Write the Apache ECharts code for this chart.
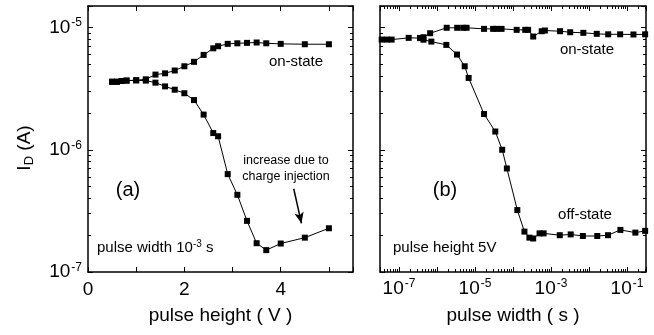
<!DOCTYPE html>
<html>
<head>
<meta charset="utf-8">
<script src="https://cdn.jsdelivr.net/npm/echarts@6/dist/echarts.min.js"></script>
<style>
  html, body { margin: 0; padding: 0; background: #fff; }
  #main { width: 654px; height: 335px; }
</style>
</head>
<body>
<div id="main"></div>
<script>
// panel (a): I_D vs pulse height, pulse width 1e-3 s
const pulseHeight = [0.5, 0.6, 0.7, 0.8, 1.0, 1.2, 1.4, 1.6, 1.8, 2.0, 2.2, 2.4, 2.6, 2.7, 2.9, 3.1, 3.3, 3.5, 3.7, 4.0, 4.5, 5.0]
const onStateA = [3.6e-6, 3.6e-6, 3.65e-6, 3.68e-6, 3.7e-6, 3.77e-6, 4.12e-6, 4.22e-6, 4.45e-6, 4.82e-6, 5.24e-6, 5.97e-6, 6.76e-6, 7.03e-6, 7.35e-6, 7.43e-6, 7.49e-6, 7.54e-6, 7.43e-6, 7.35e-6, 7.3e-6, 7.3e-6]
const offStateA = [3.6e-6, 3.6e-6, 3.65e-6, 3.68e-6, 3.7e-6, 3.68e-6, 3.54e-6, 3.3e-6, 3.1e-6, 2.9e-6, 2.55e-6, 1.94e-6, 1.37e-6, 1.29e-6, 6.32e-7, 4.28e-7, 2.62e-7, 1.72e-7, 1.51e-7, 1.71e-7, 1.91e-7, 2.28e-7]
// arrow "increase due to charge injection" (data coords)
const arrowA = [[4.27, 4.8e-7], [4.43, 2.5e-7]]

// panel (b): I_D vs pulse width, pulse height 5V
const pulseWidthOn = [3.5e-8, 4.8e-8, 6.4e-8, 1.8e-7, 3.6e-7, 4.4e-7, 6.6e-7, 1.8e-6, 3.4e-6, 4.9e-6, 6.0e-6, 1.73e-5, 3.0e-5, 3.7e-5, 5.0e-5, 1.25e-4, 2.1e-4, 2.5e-4, 3.4e-4, 5.7e-4, 6.9e-4, 1.73e-3, 3.2e-3, 7.1e-3, 1.6e-2, 3.2e-2, 6.6e-2, 0.148, 0.3]
const onStateB = [7.97e-6, 7.97e-6, 7.97e-6, 8.23e-6, 8.2e-6, 8.33e-6, 8.98e-6, 9.95e-6, 9.95e-6, 9.95e-6, 9.95e-6, 9.75e-6, 9.75e-6, 9.75e-6, 9.75e-6, 9.57e-6, 9.57e-6, 9.57e-6, 8.44e-6, 9.33e-6, 9.45e-6, 9.33e-6, 9.15e-6, 9.05e-6, 8.88e-6, 8.8e-6, 8.8e-6, 8.77e-6, 8.8e-6]
const pulseWidthOff = [3.6e-7, 4.4e-7, 7.1e-7, 1.76e-6, 3.36e-6, 5.36e-6, 6.8e-6, 1.73e-5, 3.42e-5, 5.2e-5, 6.9e-5, 1.3e-4, 2.0e-4, 2.7e-4, 3.4e-4, 5.0e-4, 6.4e-4, 1.7e-3, 3.3e-3, 6.9e-3, 1.65e-2, 3.16e-2, 6.7e-2, 0.166, 0.3]
const offStateB = [8.2e-6, 7.95e-6, 7.67e-6, 7.21e-6, 6.01e-6, 4.82e-6, 3.87e-6, 1.96e-6, 1.41e-6, 1.0e-6, 7.03e-7, 3.21e-7, 2.14e-7, 1.91e-7, 1.88e-7, 2.07e-7, 2.07e-7, 2.0e-7, 2.03e-7, 1.97e-7, 1.97e-7, 2.0e-7, 2.21e-7, 2.1e-7, 2.17e-7]

const FONT = '"Liberation Sans", Arial, Helvetica, sans-serif'
const zip = (xs, ys) => xs.map((x, i) => [x, ys[i]])

const supRich = {
  b: { fontSize: 19, fontFamily: FONT, color: '#000' },
  s: { fontSize: 12, fontFamily: FONT, color: '#000', verticalAlign: 'bottom', padding: [0, 0, 9, 1] }
}

// label like 10^-5, only on whole decades
function decadeLabel(v, oddOnly) {
  const e = Math.log10(v)
  const r = Math.round(e)
  if (Math.abs(e - r) > 1e-6) return ''
  if (oddOnly && r % 2 === 0) return ''
  return '{b|10}{s|' + r + '}'
}

function frame(extra) {
  return Object.assign({
    axisLine: { show: true, onZero: false, lineStyle: { color: '#000', width: 1.5 } },
    axisTick: { show: true, inside: true, length: 5, lineStyle: { color: '#000', width: 1 } },
    axisLabel: { show: false },
    splitLine: { show: false },
    minorSplitLine: { show: false }
  }, extra)
}

const logMinor = { show: true, splitNumber: 9, length: 3, lineStyle: { color: '#000', width: 1 } }
const yRange = { type: 'log', logBase: 10, min: 1e-7, max: 1.5e-5 }
const xRangeB = { type: 'log', logBase: 10, min: Math.pow(10, -7.5), max: Math.pow(10, -0.5) }

function lineSeries(x, y, data, extra) {
  return Object.assign({
    type: 'line',
    xAxisIndex: x,
    yAxisIndex: y,
    data: data,
    symbol: 'rect',
    symbolSize: 6,
    itemStyle: { color: '#000' },
    lineStyle: { color: '#000', width: 1 },
    silent: true
  }, extra)
}

function txt(x, y, text, size, extra) {
  return Object.assign({
    type: 'text', x: x, y: y,
    style: { text: text, fontSize: size, fontFamily: FONT, fill: '#000', align: 'center', verticalAlign: 'middle' }
  }, extra)
}

const chart = echarts.init(document.getElementById('main'))
chart.setOption({
  backgroundColor: '#fff',
  animation: false,
  grid: [
    { left: 88, top: 6, width: 265, height: 266 },
    { left: 380, top: 6, width: 266, height: 266 }
  ],
  xAxis: [
    frame({
      type: 'value', gridIndex: 0, position: 'bottom', min: 0, max: 5.5, interval: 1,
      axisLabel: {
        show: true, margin: 8, fontSize: 19, fontFamily: FONT, color: '#000',
        formatter: v => (Math.abs(v % 2) < 1e-9 && v <= 4 ? String(v) : '')
      },
      name: 'pulse height ( V )', nameLocation: 'middle', nameGap: 34,
      nameTextStyle: { fontSize: 19, fontFamily: FONT, color: '#000' }
    }),
    frame({ type: 'value', gridIndex: 0, position: 'top', min: 0, max: 5.5, interval: 1 }),
    frame(Object.assign({}, xRangeB, {
      gridIndex: 1, position: 'bottom',
      minorTick: logMinor,
      axisLabel: { show: true, margin: 6, formatter: v => decadeLabel(v, true), rich: supRich },
      name: 'pulse width ( s )', nameLocation: 'middle', nameGap: 34,
      nameTextStyle: { fontSize: 19, fontFamily: FONT, color: '#000' }
    })),
    frame(Object.assign({}, xRangeB, { gridIndex: 1, position: 'top', minorTick: logMinor }))
  ],
  yAxis: [
    frame(Object.assign({}, yRange, {
      gridIndex: 0, position: 'left', minorTick: logMinor,
      axisLabel: { show: true, margin: 6, formatter: v => decadeLabel(v, false), rich: supRich }
    })),
    frame(Object.assign({}, yRange, { gridIndex: 0, position: 'right', minorTick: logMinor })),
    frame(Object.assign({}, yRange, { gridIndex: 1, position: 'left', minorTick: logMinor })),
    frame(Object.assign({}, yRange, { gridIndex: 1, position: 'right', minorTick: logMinor }))
  ],
  series: [
    lineSeries(0, 0, zip(pulseHeight, onStateA)),
    lineSeries(0, 0, zip(pulseHeight, offStateA), {
      markLine: {
        silent: true,
        symbol: ['none', 'arrow'],
        symbolSize: [7, 11],
        label: { show: false },
        lineStyle: { color: '#000', width: 1.5, type: 'solid' },
        data: [[{ coord: arrowA[0] }, { coord: arrowA[1] }]]
      }
    }),
    lineSeries(2, 2, zip(pulseWidthOn, onStateB)),
    lineSeries(2, 2, zip(pulseWidthOff, offStateB))
  ],
  graphic: [
    txt(25, 148, '{a|I}{d|D}{a| (A)}', 19, {
      rotation: Math.PI / 2,
      style: {
        text: '{a|I}{d|D}{a| (A)}', align: 'center', verticalAlign: 'middle',
        rich: {
          a: { fontSize: 19, fontFamily: FONT, fill: '#000' },
          d: { fontSize: 13, fontFamily: FONT, fill: '#000', verticalAlign: 'top', padding: [8, 0, 0, 0] }
        }
      }
    }),
    txt(296, 62, 'on-state', 15),
    txt(286, 161, 'increase due to', 12.5),
    txt(286, 177, 'charge injection', 12.5),
    txt(128, 190, '(a)', 20),
    {
      type: 'text', x: 97, y: 248,
      style: {
        text: '{a|pulse width 10}{s|-3}{a| s}', verticalAlign: 'middle',
        rich: {
          a: { fontSize: 15, fontFamily: FONT, fill: '#000' },
          s: { fontSize: 10, fontFamily: FONT, fill: '#000', verticalAlign: 'bottom', padding: [0, 0, 7, 0] }
        }
      }
    },
    txt(445, 190, '(b)', 20),
    txt(587, 50, 'on-state', 15),
    txt(585, 215, 'off-state', 15),
    txt(393, 248, 'pulse height 5V', 15, {
      style: { text: 'pulse height 5V', fontSize: 15, fontFamily: FONT, fill: '#000', align: 'left', verticalAlign: 'middle' }
    })
  ]
})
</script>
</body>
</html>
